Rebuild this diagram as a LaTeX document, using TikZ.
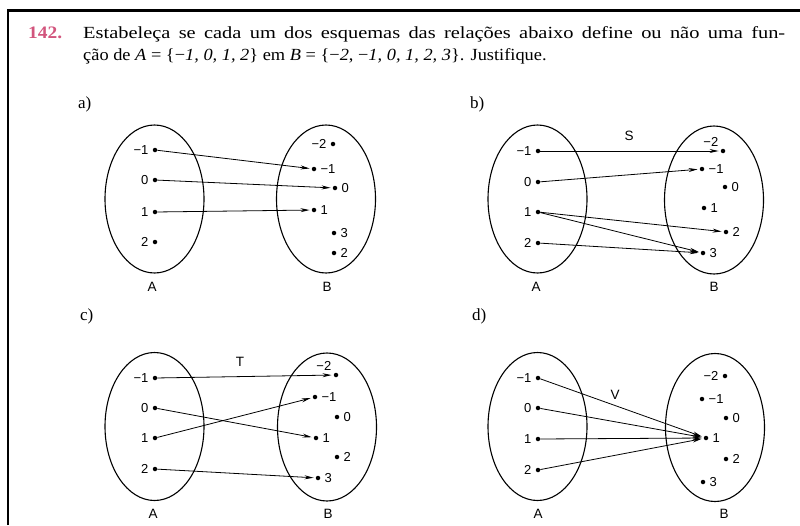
\documentclass[tikz,border=0pt]{standalone}
\usepackage{fontspec}
\setmainfont{Liberation Serif}
\newfontfamily\lblfont{Liberation Sans}
\usetikzlibrary{shapes.geometric, arrows.meta}
\definecolor{numpink}{RGB}{210,85,125}

\begin{document}
\begin{tikzpicture}[x=1pt, y=-1pt,
    conj/.style={draw, ellipse, minimum width=99pt, minimum height=148pt, inner sep=0pt, line width=1.1pt},
    elem/.style={circle, fill, inner sep=0pt, minimum size=4.5pt},
    seta/.style={-{Stealth[length=9pt, width=4pt]}, line width=0.8pt, shorten >=2pt},
    every label/.style={font=\lblfont\fontsize{13}{15}\selectfont, inner sep=0pt},
    label distance=4pt,
    setname/.style={font=\lblfont\fontsize{13.5}{15}\selectfont},
    partlbl/.style={font=\fontsize{17}{20}\selectfont, anchor=west, inner sep=0pt},
    stmt/.style={anchor=base west, inner sep=0pt, font=\fontsize{17}{20}\selectfont}]

    % Fix the size of the picture
    \useasboundingbox (0,0) rectangle (800,525);

    % Draw the frame and the statement
    \draw[line width=2.5pt] (8,525) -- (8,10.5) -- (800,10.5);
    \node[stmt, font=\fontsize{17.5}{20}\selectfont\bfseries, text=numpink] (num) at (28,38) {\scalebox{1.11}[1]{142.}};
    \node[stmt] (line1) at (83,38) {\scalebox{1.2}[1]{\makebox[585pt][s]{Estabeleça se cada um dos esquemas das relações abaixo define ou não uma fun-}}};
    \node[stmt] (line2) at (83,60) {\scalebox{1.08}[1]{ção de \textit{A} = \{−\textit{1, 0, 1, 2}\} em \textit{B} = \{−\textit{2}, −\textit{1, 0, 1, 2, 3}\}. Justifique.}};

    % a)
    \node[partlbl] (la) at (78,104) {a)};
    \node[conj] (aA) at (154.5,199) {};
    \node[conj] (aB) at (326,199) {};
    \node[setname] (naA) at (152,287) {A};
    \node[setname] (naB) at (327,287) {B};
    \node[elem, label=left:−1] (aAm1) at (155,150) {};
    \node[elem, label=left:0] (aA0) at (155,180) {};
    \node[elem, label=left:1] (aA1) at (155,212) {};
    \node[elem, label=left:2] (aA2) at (155,242) {};
    \node[elem, label=left:−2] (aBm2) at (333,144) {};
    \node[elem, label=right:−1] (aBm1) at (314,169) {};
    \node[elem, label=right:0] (aB0) at (335,188) {};
    \node[elem, label=right:1] (aB1) at (314,210) {};
    \node[elem, label=right:3] (aB3) at (334,233) {};
    \node[elem, label=right:2] (aB2) at (334,253) {};
    \draw[seta] (aAm1) -- (aBm1);
    \draw[seta] (aA0) -- (aB0);
    \draw[seta] (aA1) -- (aB1);

    % b)
    \node[partlbl] (lb) at (470,104) {b)};
    \node[conj] (bA) at (537.5,199) {};
    \node[conj] (bB) at (714,200) {};
    \node[setname] (nbA) at (536,287) {A};
    \node[setname] (nbB) at (714,287) {B};
    \node[setname] (nS) at (629,136) {S};
    \node[elem, label=left:−1] (bAm1) at (538,151) {};
    \node[elem, label=left:0] (bA0) at (538,182) {};
    \node[elem, label=left:1] (bA1) at (538,212) {};
    \node[elem, label=left:2] (bA2) at (538,243) {};
    \node[elem, label=above left:−2] (bBm2) at (723,151) {};
    \node[elem, label=right:−1] (bBm1) at (702,169) {};
    \node[elem, label=right:0] (bB0) at (725,187) {};
    \node[elem, label=right:1] (bB1) at (704,208) {};
    \node[elem, label=right:2] (bB2) at (726,232) {};
    \node[elem, label=right:3] (bB3) at (703,253) {};
    \draw[seta] (bAm1) -- (bBm2);
    \draw[seta] (bA0) -- (bBm1);
    \draw[seta] (bA1) -- (bB2);
    \draw[seta] (bA1) -- (bB3);
    \draw[seta] (bA2) -- (bB3);

    % c)
    \node[partlbl] (lc) at (80,316) {c)};
    \node[conj] (cA) at (154.5,426.5) {};
    \node[conj] (cB) at (327,427) {};
    \node[setname] (ncA) at (153,514) {A};
    \node[setname] (ncB) at (328,514) {B};
    \node[setname] (nT) at (240,362) {T};
    \node[elem, label=left:−1] (cAm1) at (155,378) {};
    \node[elem, label=left:0] (cA0) at (155,408) {};
    \node[elem, label=left:1] (cA1) at (155,438) {};
    \node[elem, label=left:2] (cA2) at (155,469) {};
    \node[elem, label=above left:−2] (cBm2) at (336,375) {};
    \node[elem, label=right:−1] (cBm1) at (315,397) {};
    \node[elem, label=right:0] (cB0) at (337,417) {};
    \node[elem, label=right:1] (cB1) at (316,438) {};
    \node[elem, label=right:2] (cB2) at (337,457) {};
    \node[elem, label=right:3] (cB3) at (318,478) {};
    \draw[seta] (cAm1) -- (cBm2);
    \draw[seta] (cA0) -- (cB1);
    \draw[seta] (cA1) -- (cBm1);
    \draw[seta] (cA2) -- (cB3);

    % d)
    \node[partlbl] (ld) at (472,316) {d)};
    \node[conj] (dA) at (537.5,426.5) {};
    \node[conj] (dB) at (715,427.5) {};
    \node[setname] (ndA) at (538,514) {A};
    \node[setname] (ndB) at (724,514) {B};
    \node[setname] (nV) at (615,395) {V};
    \node[elem, label=left:−1] (dAm1) at (538,378) {};
    \node[elem, label=left:0] (dA0) at (538,408) {};
    \node[elem, label=left:1] (dA1) at (538,439) {};
    \node[elem, label=left:2] (dA2) at (538,470) {};
    \node[elem, label=left:−2] (dBm2) at (725,376) {};
    \node[elem, label=right:−1] (dBm1) at (702,399) {};
    \node[elem, label=right:0] (dB0) at (726,418) {};
    \node[elem, label=right:1] (dB1) at (706,438) {};
    \node[elem, label=right:2] (dB2) at (726,459) {};
    \node[elem, label=right:3] (dB3) at (703,482) {};
    \draw[seta] (dAm1) -- (dB1);
    \draw[seta] (dA0) -- (dB1);
    \draw[seta] (dA1) -- (dB1);
    \draw[seta] (dA2) -- (dB1);

\end{tikzpicture}
\end{document}
